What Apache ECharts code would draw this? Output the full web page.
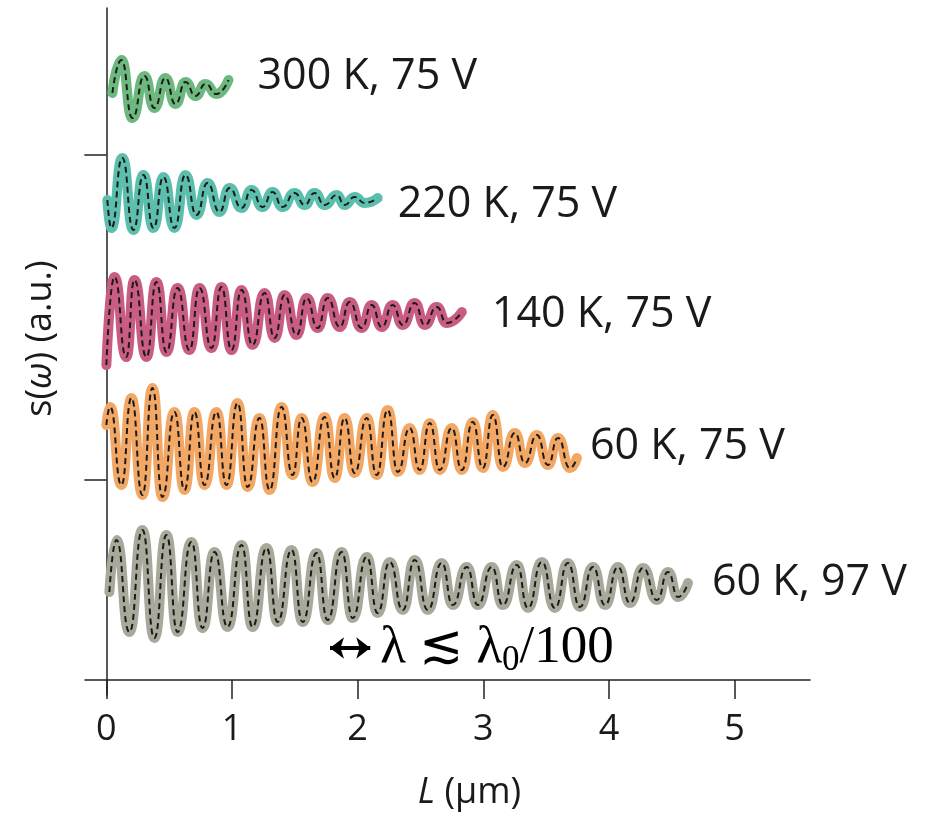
<!DOCTYPE html>
<html>
<head>
<meta charset="utf-8">
<script src="https://cdn.jsdelivr.net/npm/echarts@6/dist/echarts.min.js"></script>
<style>
  html, body { margin: 0; padding: 0; background: #fff; }
  #chart { width: 940px; height: 813px; }
</style>
</head>
<body>
<div id="chart"></div>
<script>
// tick positions
const xTicks = [0, 1, 2, 3, 4, 5];
const yTicks = [2.0, 5.25];

// labels shown at the end of each trace
const traceNames = ['300 K, 75 V', '220 K, 75 V', '140 K, 75 V', '60 K, 75 V', '60 K, 97 V'];

// peaks / troughs, [L (um), s (a.u.)]
const trace300K = [
  [0.048, 5.87], [0.12, 6.2], [0.207, 5.62], [0.303, 6.04], [0.382, 5.72], [0.47, 6.02],
  [0.55, 5.76], [0.63, 5.98], [0.709, 5.84], [0.789, 5.96], [0.876, 5.86], [0.972, 6.0]
];
const trace220K = [
  [0.008, 4.8], [0.04, 4.52], [0.127, 5.22], [0.215, 4.5], [0.295, 5.05], [0.375, 4.52],
  [0.454, 5.03], [0.542, 4.52], [0.629, 5.05], [0.717, 4.65], [0.805, 4.97], [0.9, 4.68],
  [0.98, 4.92], [1.076, 4.72], [1.155, 4.9], [1.243, 4.73], [1.323, 4.88], [1.402, 4.73],
  [1.498, 4.87], [1.578, 4.75], [1.657, 4.87], [1.737, 4.75], [1.833, 4.85], [1.896, 4.75],
  [1.976, 4.83], [2.056, 4.77], [2.159, 4.82]
];
const trace140K = [
  [0.0, 3.15], [0.064, 4.03], [0.159, 3.23], [0.223, 4.0], [0.319, 3.23], [0.398, 3.98],
  [0.478, 3.28], [0.566, 3.92], [0.661, 3.3], [0.741, 3.92], [0.837, 3.32], [0.916, 3.93],
  [0.996, 3.3], [1.076, 3.9], [1.163, 3.35], [1.259, 3.87], [1.339, 3.42], [1.418, 3.85],
  [1.514, 3.45], [1.594, 3.82], [1.681, 3.52], [1.761, 3.82], [1.857, 3.53], [1.936, 3.78],
  [2.032, 3.52], [2.112, 3.75], [2.191, 3.53], [2.279, 3.75], [2.359, 3.55], [2.454, 3.77],
  [2.534, 3.55], [2.629, 3.73], [2.709, 3.57], [2.829, 3.68]
];
const trace60K75V = [
  [0.0, 2.55], [0.03, 2.73], [0.12, 1.95], [0.199, 2.82], [0.287, 1.85], [0.367, 2.92],
  [0.446, 1.83], [0.542, 2.68], [0.622, 1.9], [0.701, 2.68], [0.781, 1.95], [0.876, 2.68],
  [0.956, 1.95], [1.044, 2.77], [1.124, 1.93], [1.219, 2.62], [1.299, 1.9], [1.394, 2.73],
  [1.482, 2.05], [1.554, 2.62], [1.641, 1.98], [1.737, 2.63], [1.817, 2.02], [1.896, 2.62],
  [1.976, 2.07], [2.072, 2.62], [2.151, 2.05], [2.239, 2.7], [2.319, 2.08], [2.414, 2.52],
  [2.494, 2.1], [2.574, 2.57], [2.653, 2.1], [2.749, 2.52], [2.829, 2.1], [2.916, 2.58],
  [2.996, 2.12], [3.076, 2.65], [3.155, 2.13], [3.251, 2.47], [3.331, 2.17], [3.426, 2.45],
  [3.514, 2.15], [3.594, 2.42], [3.689, 2.12], [3.745, 2.22]
];
const trace60K97V = [
  [0.024, 0.88], [0.08, 1.4], [0.183, 0.48], [0.287, 1.5], [0.382, 0.42], [0.478, 1.45],
  [0.566, 0.48], [0.677, 1.38], [0.765, 0.52], [0.861, 1.28], [0.964, 0.53], [1.076, 1.35],
  [1.163, 0.53], [1.275, 1.32], [1.363, 0.58], [1.474, 1.3], [1.562, 0.58], [1.673, 1.27],
  [1.761, 0.6], [1.873, 1.28], [1.96, 0.62], [2.072, 1.23], [2.159, 0.67], [2.255, 1.18],
  [2.359, 0.7], [2.454, 1.2], [2.558, 0.7], [2.669, 1.17], [2.757, 0.75], [2.869, 1.13],
  [2.956, 0.75], [3.068, 1.13], [3.155, 0.75], [3.267, 1.15], [3.355, 0.72], [3.466, 1.18],
  [3.57, 0.72], [3.673, 1.17], [3.769, 0.73], [3.873, 1.13], [3.968, 0.75], [4.072, 1.13],
  [4.167, 0.77], [4.271, 1.12], [4.382, 0.8], [4.47, 1.08], [4.55, 0.83], [4.629, 0.97]
];

// wavelength scale bar
const scaleBar = [[1.78, 0.32], [2.1, 0.32]];

const traces = [trace300K, trace220K, trace140K, trace60K75V, trace60K97V];
const traceColors = ['#6db87f', '#5cbfad', '#c85c83', '#f2a765', '#a9a99b'];
const labelOffsets = [[29, -3], [20, 7], [30, 3], [13, -11], [24, 0]];

const textColor = '#1a1a1a';
const sansFont = '"Open Sans", sans-serif';
const serifFont = '"Liberation Serif", "DejaVu Serif", serif';

function traceSeries(data, idx) {
  const name = traceNames[idx];
  const thick = {
    type: 'line',
    name,
    data,
    smooth: 0.55,
    smoothMonotone: 'x',
    symbol: 'none',
    z: 2,
    lineStyle: { color: traceColors[idx], width: 10, cap: 'round', join: 'round' },
    endLabel: {
      show: true,
      formatter: () => name,
      distance: 0,
      offset: labelOffsets[idx],
      color: textColor,
      fontSize: 43,
      fontFamily: sansFont
    }
  };
  const fit = {
    type: 'line',
    name: name + ' fit',
    data,
    smooth: 0.55,
    smoothMonotone: 'x',
    symbol: 'none',
    z: 3,
    lineStyle: { color: '#1a1a1a', width: 2, type: [6, 4] }
  };
  return [thick, fit];
}

const series = traces.flatMap((d, i) => traceSeries(d, i));

// scale bar hangs off the last trace
series[8].markLine = {
  silent: true,
  symbol: ['arrow', 'arrow'],
  symbolSize: [16, 14],
  lineStyle: { color: '#000', width: 4, type: 'solid' },
  label: {
    show: true,
    position: 'end',
    distance: 10,
    formatter: '{a|λ ≲ λ}{s|0}{a|/100}',
    rich: {
      a: { fontSize: 53, lineHeight: 60, color: '#000', fontFamily: serifFont },
      s: { fontSize: 35, lineHeight: 32, verticalAlign: 'bottom', color: '#000', fontFamily: serifFont }
    }
  },
  data: [[{ coord: scaleBar[0] }, { coord: scaleBar[1] }]]
};

const chart = echarts.init(document.getElementById('chart'));
chart.setOption({
  animation: false,
  backgroundColor: '#fff',
  grid: { left: 85, right: 130, top: 8, bottom: 118, outerBoundsMode: 'none' },
  xAxis: {
    type: 'value',
    min: -0.17,
    max: 5.6,
    axisLine: { onZero: true, lineStyle: { color: '#222', width: 1.5 } },
    axisTick: { show: true, customValues: xTicks, length: 19, lineStyle: { color: '#222', width: 1.5 } },
    axisLabel: { customValues: xTicks, fontSize: 36, color: textColor, margin: 17, fontFamily: sansFont },
    splitLine: { show: false },
    name: '{i|L} (µm)',
    nameLocation: 'middle',
    nameGap: 80,
    nameTextStyle: {
      fontSize: 36,
      color: textColor,
      fontFamily: sansFont,
      padding: [0, 0, 0, 44],
      rich: { i: { fontStyle: 'italic', fontSize: 36, color: textColor, fontFamily: sansFont } }
    }
  },
  yAxis: {
    type: 'value',
    min: -0.15,
    max: 6.72,
    axisLine: { show: true, onZero: true, lineStyle: { color: '#222', width: 1.5 } },
    axisTick: { show: true, customValues: yTicks, length: 22, lineStyle: { color: '#222', width: 1.5 } },
    axisLabel: { show: false },
    splitLine: { show: false },
    name: 's({i|ω}) (a.u.)',
    nameLocation: 'middle',
    nameRotate: 90,
    nameGap: 26,
    nameTextStyle: {
      fontSize: 36,
      color: textColor,
      fontFamily: sansFont,
      padding: [0, 0, 0, 26],
      rich: { i: { fontStyle: 'italic', fontSize: 36, color: textColor, fontFamily: sansFont } }
    }
  },
  series
});
</script>
</body>
</html>
